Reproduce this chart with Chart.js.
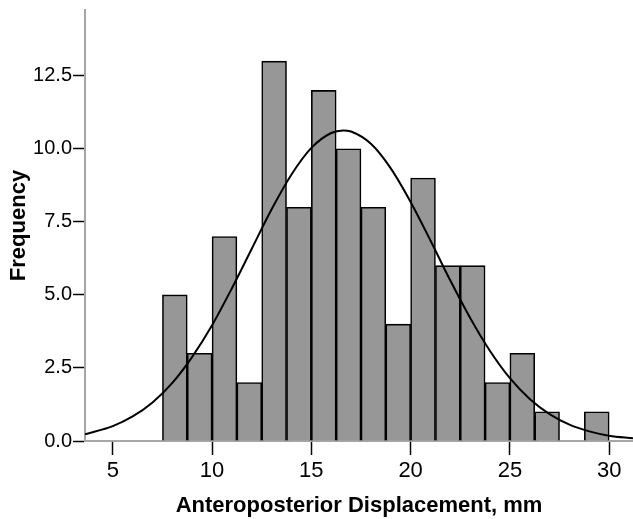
<!DOCTYPE html>
<html>
<head>
<meta charset="utf-8">
<script src="https://cdn.jsdelivr.net/npm/chart.js@4"></script>
<style>
  body { margin: 0; background: #fff; }
  #wrap { width: 633px; height: 519px; }
</style>
</head>
<body>
<div id="wrap"><canvas id="myChart" width="633" height="519"></canvas></div>
<script>
// histogram bins (lower edge, mm) and counts
var binLower = [7.5, 8.75, 10, 11.25, 12.5, 13.75, 15, 16.25, 17.5, 18.75, 20, 21.25, 22.5, 23.75, 25, 26.25, 27.5, 28.75];
var binWidth = 1.25;
var counts = [5, 3, 7, 2, 13, 8, 12, 10, 8, 4, 9, 6, 6, 2, 3, 1, 0, 1];

// normal curve
var curveX = [3.6, 5, 6, 7, 8, 9, 10, 11, 12, 13, 14, 15, 16, 16.6, 17, 18, 19, 20, 21, 22, 23, 24, 25, 26, 27, 28, 29, 30, 31.2];
var curveY = [0.23, 0.51, 0.84, 1.32, 1.99, 2.88, 3.96, 5.23, 6.58, 7.93, 9.12, 10.03, 10.54, 10.63, 10.59, 10.17, 9.33, 8.18, 6.86, 5.49, 4.21, 3.08, 2.15, 1.44, 0.92, 0.56, 0.33, 0.18, 0.09];

var xTicks = [5, 10, 15, 20, 25, 30];
var yTicks = [0, 2.5, 5, 7.5, 10, 12.5];

var bars = binLower.map(function (lo, i) { return { x: lo + binWidth / 2, y: counts[i] }; });
var curve = curveX.map(function (x, i) { return { x: x, y: curveY[i] }; });

var ctx = document.getElementById("myChart");

var myChart = new Chart(ctx, {
    type: 'bar',
    data: {
        datasets: [{
            type: 'line',
            data: curve,
            borderColor: '#000',
            borderWidth: 2,
            pointRadius: 0,
            cubicInterpolationMode: 'monotone',
            fill: false,
            order: 0
        }, {
            type: 'bar',
            data: bars,
            backgroundColor: '#979797',
            borderColor: '#000',
            borderWidth: 1.6,
            barPercentage: 1,
            categoryPercentage: 1,
            order: 1
        }]
    },
    options: {
        responsive: false,
        animation: false,
        layout: { padding: { top: 10, right: 0, left: 0, bottom: 0 } },
        plugins: {
            legend: { display: false },
            tooltip: { enabled: false }
        },
        scales: {
            x: {
                type: 'linear',
                min: 3.6,
                max: 31.2,
                offset: false,
                grid: { offset: false, drawOnChartArea: false, tickLength: 14, tickColor: '#000', tickWidth: 1.5 },
                border: { color: '#a6a6a6', width: 2 },
                ticks: { color: '#000', padding: 3, font: { family: 'Liberation Sans', size: 22 } },
                title: {
                    display: true,
                    text: 'Anteroposterior Displacement, mm',
                    color: '#000',
                    padding: { top: 0, bottom: 0 },
                    font: { family: 'Liberation Sans', size: 22, weight: 'bold' }
                },
                afterBuildTicks: function (s) { s.ticks = xTicks.map(function (v) { return { value: v }; }); },
                afterFit: function (s) { s.height = 78; s.paddingLeft = 0; s.paddingRight = 0; }
            },
            y: {
                min: 0,
                max: 14.75,
                grid: { drawOnChartArea: false, tickLength: 12, tickColor: '#000', tickWidth: 1.5 },
                border: { color: '#a6a6a6', width: 2 },
                ticks: {
                    color: '#000', padding: 1,
                    font: { family: 'Liberation Sans', size: 20 },
                    callback: function (v) { return v.toFixed(1); }
                },
                title: {
                    display: true,
                    text: 'Frequency',
                    color: '#000',
                    padding: { top: 6, bottom: 0 },
                    font: { family: 'Liberation Sans', size: 22, weight: 'bold' }
                },
                afterBuildTicks: function (s) { s.ticks = yTicks.map(function (v) { return { value: v }; }); },
                afterFit: function (s) { s.width = 85; s.paddingTop = 0; s.paddingBottom = 0; }
            }
        }
    }
});
</script>
</body>
</html>
